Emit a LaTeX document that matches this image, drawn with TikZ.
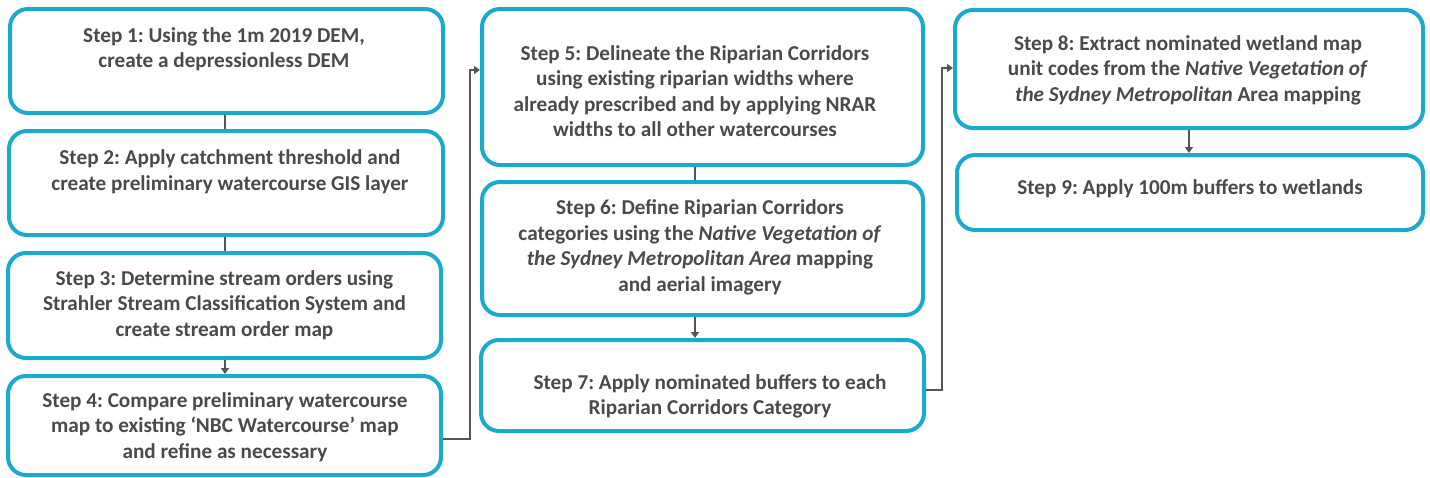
\documentclass[tikz,border=0pt]{standalone}
\usepackage{fontspec}
\setmainfont{Carlito}
\frenchspacing
\usetikzlibrary{arrows.meta}
\definecolor{boxcyan}{RGB}{27,169,204}
\definecolor{txtgrey}{RGB}{74,74,74}
\definecolor{linegrey}{RGB}{85,85,85}
\tikzset{
  stepbox/.style={draw=boxcyan, line width=4pt, rounded corners=18pt, fill=white, inner sep=0pt},
  steptext/.style={align=center, text=txtgrey, font=\fontsize{21.2}{25.5}\selectfont\bfseries, inner sep=0pt},
  conn/.style={draw=linegrey, line width=2.5pt},
  arr/.style={conn, -{Triangle[width=8pt,length=6pt]}}
}
\begin{document}
\begin{tikzpicture}[x=1pt,y=-1pt]
\useasboundingbox (0,0) rectangle (1430,477);

% boxes
\node[stepbox, minimum width=433pt, minimum height=104pt] (s1) at (226.5,61) {};
\node[stepbox, minimum width=434pt, minimum height=104pt] (s2) at (226,183) {};
\node[stepbox, minimum width=433pt, minimum height=105pt] (s3) at (224.5,305.5) {};
\node[stepbox, minimum width=433pt, minimum height=99pt] (s4) at (224.5,425.5) {};
\node[stepbox, minimum width=441pt, minimum height=156pt] (s5) at (702.5,87) {};
\node[stepbox, minimum width=441pt, minimum height=133pt] (s6) at (702.5,248.5) {};
\node[stepbox, minimum width=443pt, minimum height=91pt] (s7) at (702.5,385.5) {};
\node[stepbox, minimum width=468pt, minimum height=118pt] (s8) at (1189,69) {};
\node[stepbox, minimum width=466pt, minimum height=75pt] (s9) at (1190,192.5) {};

% texts
\node[steptext] (t1) at (224,49) {Step 1: Using the 1m 2019 DEM,\\create a depressionless DEM};
\node[steptext] (t2) at (230,171.5) {Step 2: Apply catchment threshold and\\create preliminary watercourse GIS layer};
\node[steptext] (t3) at (224.5,305) {Step 3: Determine stream orders using\\Strahler Stream Classification System and\\create stream order map};
\node[steptext] (t4) at (225,427) {Step 4: Compare preliminary watercourse\\map to existing ‘NBC Watercourse’ map\\and refine as necessary};
\node[steptext] (t5) at (695,91) {Step 5: Delineate the Riparian Corridors\\using existing riparian widths where\\already prescribed and by applying NRAR\\widths to all other watercourses};
\node[steptext] (t6) at (700,247.5) {Step 6: Define Riparian Corridors\\categories using the \textit{Native Vegetation of}\\\textit{the Sydney Metropolitan Area} mapping\\and aerial imagery};
\node[steptext] (t7) at (710,396.5) {Step 7: Apply nominated buffers to each\\Riparian Corridors Category};
\node[steptext] (t8) at (1188,70) {Step 8: Extract nominated wetland map\\unit codes from the \textit{Native Vegetation of}\\\textit{the Sydney Metropolitan} Area mapping};
\node[steptext] (t9) at (1190,189) {Step 9: Apply 100m buffers to wetlands};

% connectors, first column
\draw[conn] ([xshift=-1.5pt]s1.south) -- ([xshift=-1pt]s2.north);
\draw[conn] ([xshift=-1pt]s2.south) -- ([xshift=0.5pt]s3.north);
\draw[arr] ([xshift=0.5pt]s3.south) -- ([xshift=0.5pt]s4.north);
\draw[arr] ([yshift=-13.5pt]s4.east) -- ++(27,0) |- ([yshift=17pt]s5.west);

% connectors, second column
\draw[conn] ([xshift=-7.5pt]s5.south) -- ([xshift=-7.5pt]s6.north);
\draw[arr] ([xshift=-7.5pt]s6.south) -- ([xshift=-7.5pt]s7.north);
\draw[arr] ([yshift=-4.5pt]s7.east) -- ++(16,0) |- ([yshift=1pt]s8.west);

% connector, third column
\draw[arr] (s8.south) -- (s8.south |- s9.north);
\end{tikzpicture}
\end{document}
